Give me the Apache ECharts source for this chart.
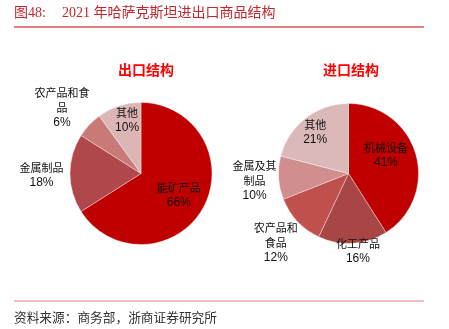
<!DOCTYPE html>
<html>
<head>
<meta charset="utf-8">
<script src="https://cdn.jsdelivr.net/npm/echarts@6/dist/echarts.min.js"></script>
<style>
  html, body { margin: 0; padding: 0; background: #fff; }
  #chart { width: 449px; height: 329px; }
</style>
</head>
<body>
<div id="chart"></div>
<script>
// 2021 年哈萨克斯坦出口商品结构（%）
const exportNames = ['能矿产品', '金属制品', '农产品和食品', '其他'];
const exportValues = [66, 18, 6, 10];

// 2021 年哈萨克斯坦进口商品结构（%）
const importNames = ['机械设备', '化工产品', '农产品和食品', '金属及其制品', '其他'];
const importValues = [41, 16, 12, 10, 21];

const figureNo = '图48:';
const figureTitle = '2021 年哈萨克斯坦进出口商品结构';
const exportTitle = '出口结构';
const importTitle = '进口结构';
const sourceNote = '资料来源：商务部，浙商证券研究所';

const exportColors = ['#c00000', '#b0474a', '#c97a78', '#dcb5b5'];
const importColors = ['#c00000', '#a84646', '#c0504d', '#d08e8e', '#dcb9b9'];

const CJK = '"Noto Sans CJK SC", sans-serif';
const LATIN = '"Liberation Sans", Arial, sans-serif';
const SERIF = '"Liberation Serif", "Noto Sans CJK SC", serif';

// break a long category name into lines of at most n characters
function wrapName(name, n) {
  const parts = [];
  for (let i = 0; i < name.length; i += n) parts.push(name.slice(i, i + n));
  return parts;
}

function buildPie(names, values, colors, center, radius, wraps, shifts) {
  const plain = { color: '#111', lineHeight: 15, textBorderWidth: 0, textBorderColor: 'transparent' };
  return {
    type: 'pie',
    center: center,
    radius: radius,
    startAngle: 90,
    clockwise: true,
    silent: true,
    animation: false,
    itemStyle: { borderColor: 'rgba(255,255,255,0.6)', borderWidth: 0.6 },
    label: {
      show: true,
      position: 'inside',
      color: '#111',
      textBorderWidth: 0,
      textBorderColor: 'transparent',
      formatter: function (p) {
        const lines = wrapName(p.name, wraps[p.dataIndex] || 99)
          .map(function (s) { return '{n|' + s + '}'; });
        return lines.join('\n') + '\n{v|' + p.value + '%}';
      },
      rich: {
        n: Object.assign({ fontFamily: CJK, fontSize: 11 }, plain),
        v: Object.assign({ fontFamily: LATIN, fontSize: 12 }, plain)
      }
    },
    labelLine: { show: false },
    labelLayout: function (params) {
      const s = shifts[params.dataIndex] || [0, 0];
      return { dx: s[0], dy: s[1] };
    },
    data: names.map(function (n, i) {
      return { name: n, value: values[i], itemStyle: { color: colors[i] } };
    })
  };
}

const chart = echarts.init(document.getElementById('chart'), null, { renderer: 'canvas' });

chart.setOption({
  backgroundColor: '#ffffff',
  animation: false,
  graphic: [
    {
      type: 'text', x: 14, y: 13,
      style: {
        text: figureNo, font: '14px ' + SERIF, fill: '#c0282c',
        textVerticalAlign: 'middle'
      }
    },
    {
      type: 'text', x: 62, y: 13,
      style: {
        text: figureTitle, font: '14px ' + SERIF, fill: '#c0282c',
        textVerticalAlign: 'middle'
      }
    },
    {
      type: 'line',
      shape: { x1: 14, y1: 27, x2: 424, y2: 27 },
      style: { stroke: '#c00000', lineWidth: 1 }
    },
    {
      type: 'text', x: 146, y: 70,
      style: {
        text: exportTitle, font: 'bold 14px ' + CJK, fill: '#ff0000',
        textAlign: 'center', textVerticalAlign: 'middle'
      }
    },
    {
      type: 'text', x: 351, y: 70,
      style: {
        text: importTitle, font: 'bold 14px ' + CJK, fill: '#ff0000',
        textAlign: 'center', textVerticalAlign: 'middle'
      }
    },
    {
      type: 'line',
      shape: { x1: 14, y1: 301, x2: 424, y2: 301 },
      style: { stroke: '#e08080', lineWidth: 1.2 }
    },
    {
      type: 'text', x: 14, y: 317,
      style: {
        text: sourceNote, font: '12.7px ' + CJK, fill: '#333',
        textVerticalAlign: 'middle'
      }
    }
  ],
  series: [
    buildPie(exportNames, exportValues, exportColors, [141, 173.5], 71,
      { 2: 5 },
      { 0: [4, 3], 1: [-61, 2], 2: [-51, -39], 3: [-2, -17] }),
    buildPie(importNames, importValues, importColors, [348.5, 173.5], 70,
      { 2: 4, 3: 4 },
      { 0: [1, -8], 1: [7, 40], 2: [-45, 43], 3: [-56, 5], 4: [-10, -11] })
  ]
});
</script>
</body>
</html>
